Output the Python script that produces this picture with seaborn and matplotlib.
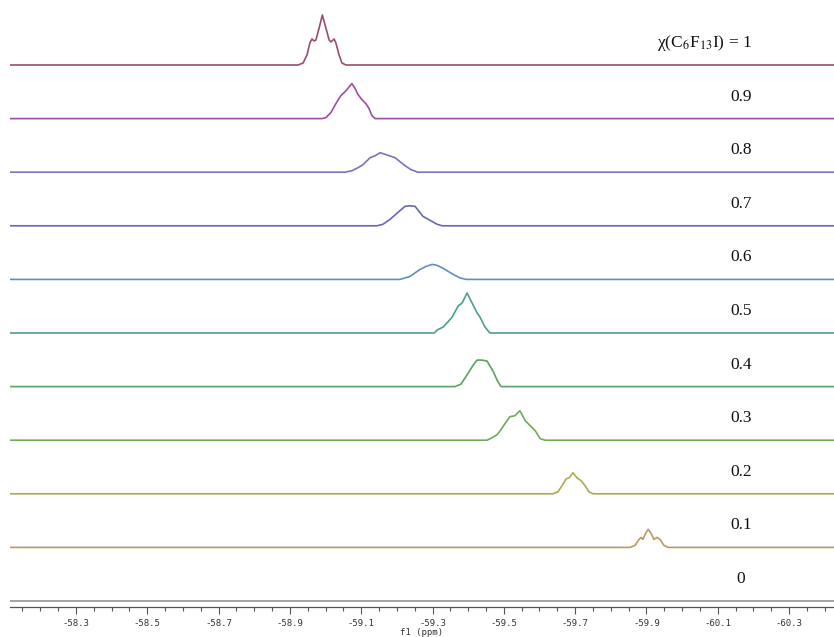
import numpy as np
import pandas as pd
import matplotlib
matplotlib.use("Agg")
import matplotlib.pyplot as plt
from matplotlib.ticker import MultipleLocator, FixedLocator, FixedFormatter
import seaborn as sns

# mole fraction of C6F13I for each stacked 19F spectrum (top to bottom)
chi_labels = ["1", "0.9", "0.8", "0.7", "0.6", "0.5", "0.4", "0.3", "0.2", "0.1", "0"]

# spectral window (ppm)
ppm_start = -58.10
ppm_end = -60.45

# peak points: chemical shift (ppm) and intensity (a.u.)
ppm_10 = [-58.923, -58.937, -58.948, -58.956, -58.962, -58.968, -58.973, -58.982, -58.991,
          -59.001, -59.010, -59.015, -59.024, -59.029, -59.038, -59.046, -59.057]
int_10 = [0, 2, 10, 22, 26, 24, 25, 37, 50, 37, 25, 23, 26, 22, 10, 2, 0]

ppm_09 = [-58.990, -59.001, -59.015, -59.029, -59.043, -59.052, -59.060, -59.069, -59.074,
          -59.083, -59.091, -59.102, -59.113, -59.122, -59.130, -59.139]
int_09 = [0, 1, 6, 15, 23, 26, 29, 33, 35, 30, 24, 19, 15, 10, 3, 0]

ppm_08 = [-59.055, -59.074, -59.091, -59.105, -59.125, -59.139, -59.153, -59.170, -59.195,
          -59.223, -59.240, -59.259]
int_08 = [0, 1.5, 4.5, 7.5, 14.5, 16.5, 19.5, 17.5, 14.5, 6.5, 2.5, 0]

ppm_07 = [-59.144, -59.161, -59.181, -59.200, -59.223, -59.237, -59.251, -59.273, -59.293,
          -59.313, -59.327]
int_07 = [0, 1.5, 6.5, 12.5, 19.5, 20, 19.5, 9.5, 5.5, 1.5, 0]

ppm_06 = [-59.209, -59.237, -59.265, -59.282, -59.299, -59.313, -59.330, -59.358, -59.377,
          -59.394]
int_06 = [0, 3, 10, 13, 15, 14, 11, 5, 1.5, 0]

ppm_05 = [-59.305, -59.313, -59.330, -59.343, -59.355, -59.372, -59.383, -59.397, -59.411,
          -59.425, -59.433, -59.447, -59.461]
int_05 = [0, 3, 6, 11, 16, 27, 30, 40, 30, 20, 16, 6, 0]

ppm_04 = [-59.363, -59.380, -59.391, -59.402, -59.414, -59.425, -59.439, -59.453, -59.461,
          -59.470, -59.481, -59.492]
int_04 = [0, 2.5, 8.5, 14.5, 21.5, 26.5, 26.5, 25.5, 20.5, 15.5, 6.5, 0]

ppm_03 = [-59.453, -59.467, -59.481, -59.492, -59.503, -59.517, -59.531, -59.545, -59.560,
          -59.574, -59.588, -59.602, -59.616]
int_03 = [0, 2.5, 5.5, 10.5, 16.5, 23.5, 24.5, 29.5, 19.5, 14.5, 9.5, 1.5, 0]

ppm_02 = [-59.638, -59.652, -59.663, -59.675, -59.683, -59.694, -59.705, -59.717, -59.728,
          -59.739, -59.750]
int_02 = [0, 2, 8, 15, 16, 21, 16, 13, 8, 2, 0]

ppm_01 = [-59.854, -59.868, -59.879, -59.885, -59.890, -59.899, -59.905, -59.913, -59.921,
          -59.930, -59.938, -59.949, -59.961]
int_01 = [0, 2, 8, 10, 8, 15, 18, 14, 8, 10, 8, 2, 0]

ppm_00 = []
int_00 = []

peak_ppm = [ppm_10, ppm_09, ppm_08, ppm_07, ppm_06, ppm_05, ppm_04, ppm_03, ppm_02, ppm_01, ppm_00]
peak_int = [int_10, int_09, int_08, int_07, int_06, int_05, int_04, int_03, int_02, int_01, int_00]

tick_values = [-58.3, -58.5, -58.7, -58.9, -59.1, -59.3, -59.5, -59.7, -59.9, -60.1, -60.3]
tick_labels = ["-58.3", "-58.5", "-58.7", "-58.9", "-59.1", "-59.3", "-59.5", "-59.7",
               "-59.9", "-60.1", "-60.3"]

colors = ["#9C4A72", "#A04C9E", "#7E70BA", "#6668B2", "#5E8EC2", "#4E9E90",
          "#5CA262", "#70AA5A", "#AAAA4E", "#BA9862", "#9C948C"]

# vertical stacking of the traces
step = 53.6
top_offset = 542.0
label_gap = 22.0

rows = []
for i, chi in enumerate(chi_labels):
    off = top_offset - step * i
    xs = [ppm_start] + peak_ppm[i] + [ppm_end]
    ys = [0] + peak_int[i] + [0]
    for x, y in zip(xs, ys):
        rows.append({"ppm": x, "y": y + off, "chi": chi})
df = pd.DataFrame(rows)

sns.set_style("white")
plt.rcParams["mathtext.fontset"] = "stix"
fig = plt.figure(figsize=(8.34, 6.37), dpi=100)
ax = fig.add_axes([10 / 834, 30 / 637, 1 - 10 / 834, 607 / 637])

sns.lineplot(data=df, x="ppm", y="y", hue="chi", hue_order=chi_labels,
             palette=colors, sort=False, estimator=None, legend=False,
             linewidth=1.2, ax=ax)

ax.set_xlim(-58.115, -60.426)
ax.set_ylim(0, 607)

# labels on the right
for i, chi in enumerate(chi_labels):
    off = top_offset - step * i
    if chi == "1":
        ax.text(-60.064, off + label_gap, "χ(C$_6$F$_{13}$I) = 1",
                ha="center", va="center", fontsize=12.5, family="Liberation Serif",
                color="#111111")
    else:
        ax.text(-60.165, off + label_gap, chi, ha="center", va="center",
                fontsize=12.5, family="Liberation Serif", color="#111111")

for s in ["left", "right", "top"]:
    ax.spines[s].set_visible(False)
ax.spines["bottom"].set_color("#555555")
ax.spines["bottom"].set_linewidth(0.9)

ax.set_yticks([])
ax.xaxis.set_major_locator(FixedLocator(tick_values))
ax.xaxis.set_major_formatter(FixedFormatter(tick_labels))
ax.xaxis.set_minor_locator(MultipleLocator(0.05))
ax.tick_params(axis="x", which="major", direction="out", length=5, width=0.8,
               color="#555555", labelsize=6.5, labelcolor="#333333", pad=4, bottom=True)
ax.tick_params(axis="x", which="minor", direction="out", length=3, width=0.8,
               color="#555555", bottom=True)
for lab in ax.get_xticklabels():
    lab.set_family("DejaVu Sans Mono")
ax.set_xlabel("f1 (ppm)", fontsize=6.5, family="DejaVu Sans Mono", color="#333333")
ax.xaxis.set_label_coords(0.5, -0.0345)
ax.xaxis.label.set_va("top")
ax.set_ylabel("")

fig.savefig("out.png", dpi=100)
